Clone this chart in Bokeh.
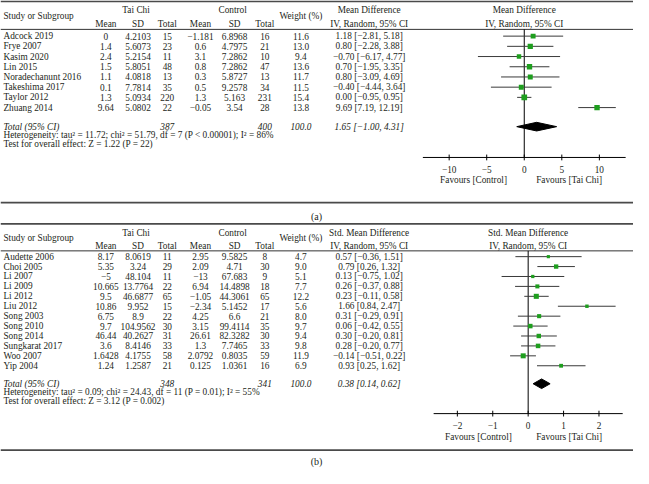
from bokeh.plotting import figure
from bokeh.models import Range1d, ColumnDataSource
from bokeh.core.properties import value
from bokeh.embed import file_html
from bokeh.resources import INLINE
import math

# ---------------- DATA: panel (a) ----------------
studies_a = ["Adcock 2019", "Frye 2007", "Kasim 2020", "Lin 2015", "Noradechanunt 2016",
             "Takeshima 2017", "Taylor 2012", "Zhuang 2014"]
tc_mean_a = ["0", "1.4", "2.4", "1.5", "1.1", "0.1", "1.3", "9.64"]
tc_sd_a = ["4.2103", "5.6073", "5.2154", "5.8051", "4.0818", "7.7814", "5.0934", "5.0802"]
tc_n_a = [15, 23, 11, 48, 13, 35, 220, 22]
c_mean_a = ["−1.181", "0.6", "3.1", "0.8", "0.3", "0.5", "1.3", "−0.05"]
c_sd_a = ["6.8968", "4.7975", "7.2862", "7.2862", "5.8727", "9.2578", "5.163", "3.54"]
c_n_a = [16, 21, 10, 47, 13, 34, 231, 28]
weight_a = [11.6, 13.0, 9.4, 13.6, 11.7, 11.5, 15.4, 13.8]
est_a = [1.18, 0.80, -0.70, 0.70, 0.80, -0.40, 0.00, 9.69]
lo_a = [-2.81, -2.28, -6.17, -1.95, -3.09, -4.44, -0.95, 7.19]
hi_a = [5.18, 3.88, 4.77, 3.35, 4.69, 3.64, 0.95, 12.19]
total_a = {"tc_n": 387, "c_n": 400, "w": "100.0", "est": 1.65, "lo": -1.00, "hi": 4.31}
het_a = "Heterogeneity: tau² = 11.72; chi² = 51.79, df = 7 (P < 0.00001); I² = 86%"
test_a = "Test for overall effect: Z = 1.22 (P = 22)"
ticks_a = [-10, -5, 0, 5, 10]

# ---------------- DATA: panel (b) ----------------
studies_b = ["Audette 2006", "Choi 2005", "Li 2007", "Li 2009", "Li 2012", "Liu 2012",
             "Song 2003", "Song 2010", "Song 2014", "Sungkarat 2017", "Woo 2007", "Yip 2004"]
tc_mean_b = ["8.17", "5.35", "−5", "10.665", "9.5", "10.86", "6.75", "9.7", "46.44", "3.6", "1.6428", "1.24"]
tc_sd_b = ["8.0619", "3.24", "48.104", "13.7764", "46.6877", "9.952", "8.9", "104.9562", "40.2627",
           "8.4146", "4.1755", "1.2587"]
tc_n_b = [11, 29, 11, 22, 65, 15, 22, 30, 31, 33, 58, 21]
c_mean_b = ["2.95", "2.09", "−13", "6.94", "−1.05", "−2.34", "4.25", "3.15", "26.61", "1.3", "2.0792", "0.125"]
c_sd_b = ["9.5825", "4.71", "67.683", "14.4898", "44.3061", "5.1452", "6.6", "99.4114", "82.3282",
          "7.7465", "0.8035", "1.0361"]
c_n_b = [8, 30, 9, 18, 65, 17, 21, 35, 30, 33, 59, 16]
weight_b = [4.7, 9.0, 5.1, 7.7, 12.2, 5.6, 8.0, 9.7, 9.4, 9.8, 11.9, 6.9]
est_b = [0.57, 0.79, 0.13, 0.26, 0.23, 1.66, 0.31, 0.06, 0.30, 0.28, -0.14, 0.93]
lo_b = [-0.36, 0.26, -0.75, -0.37, -0.11, 0.84, -0.29, -0.42, -0.20, -0.20, -0.51, 0.25]
hi_b = [1.51, 1.32, 1.02, 0.88, 0.58, 2.47, 0.91, 0.55, 0.81, 0.77, 0.22, 1.62]
total_b = {"tc_n": 348, "c_n": 341, "w": "100.0", "est": 0.38, "lo": 0.14, "hi": 0.62}
het_b = "Heterogeneity: tau² = 0.09; chi² = 24.43, df = 11 (P = 0.01); I² = 55%"
test_b = "Test for overall effect: Z = 3.12 (P = 0.002)"
ticks_b = [-2, -1, 0, 1, 2]

# ---------------- STYLE ----------------
FONT = value("Liberation Serif")
FS = "9.3px"
TXT = "#231f20"
GREEN = "#1e9e1e"
W_REF, H_REF = 649, 486
# column centres (reference pixels)
X_MEAN1, X_SD1, X_N1, X_MEAN2, X_SD2, X_N2, X_W, X_CI = 108, 141, 171, 205, 240, 271, 308, 378

p = figure(width=633, height=468, output_backend="svg", toolbar_location=None,
           x_range=Range1d(0, W_REF), y_range=Range1d(H_REF, 0),
           min_border=0, outline_line_color=None)
p.axis.visible = False
p.grid.visible = False
p.background_fill_color = "white"


def fmt(v):
    return f"{v:.2f}".replace("-", "−")


def ci_label(e, l, h):
    return f"{fmt(e)} [{fmt(l)}, {fmt(h)}]"


def txt(x, y, s, align="center", style="normal", size=FS):
    p.text(x=[x], y=[y], text=[s], text_font=FONT, text_font_size=size,
           text_align=align, text_baseline="middle", text_color=TXT, text_font_style=style)


def col(xs, ys, texts, align="center", style="normal"):
    src = ColumnDataSource(dict(x=xs, y=ys, t=texts))
    p.text(x="x", y="y", text="t", source=src, text_font=FONT, text_font_size=FS,
           text_align=align, text_baseline="middle", text_color=TXT, text_font_style=style)


def panel(L, studies, tcm, tcsd, tcn, cm, csd, cn, w, est, lo, hi, tot, het, test, ticks,
          colhdr, rng_name, zero_px, px_per_unit, label):
    start = (0 - zero_px) / px_per_unit
    end = (W_REF - zero_px) / px_per_unit
    p.extra_x_ranges[rng_name] = Range1d(start, end)

    # rules
    p.line([0, W_REF], [L["top"], L["top"]], line_color="#4a4a4a", line_width=1.8)
    p.line([0, W_REF], [L["hline"], L["hline"]], line_color="#333333", line_width=1)
    p.line([0, W_REF], [L["sep"], L["sep"]], line_color="#4a4a4a", line_width=1.8)

    # headers
    txt(3, L["h2"], "Study or Subgroup", align="left")
    txt(139, L["h1"], "Tai Chi")
    txt(238, L["h1"], "Control")
    txt(X_W, L["h2"], "Weight (%)")
    for xx, s in [(X_MEAN1, "Mean"), (X_SD1, "SD"), (X_N1, "Total"),
                  (X_MEAN2, "Mean"), (X_SD2, "SD"), (X_N2, "Total")]:
        txt(xx, L["h3"], s)
    txt(X_CI, L["h1"], colhdr)
    txt(X_CI, L["h3"], "IV, Random, 95% CI")
    txt(zero_px, L["h1"], colhdr)
    txt(zero_px, L["h3"], "IV, Random, 95% CI")

    n = len(studies)
    ys = [L["row0"] + i * L["step"] for i in range(n)]
    col([3] * n, ys, studies, align="left")
    col([X_MEAN1] * n, ys, tcm)
    col([X_SD1] * n, ys, tcsd)
    col([X_N1] * n, ys, [str(v) for v in tcn])
    col([X_MEAN2] * n, ys, cm)
    col([X_SD2] * n, ys, csd)
    col([X_N2] * n, ys, [str(v) for v in cn])
    col([X_W] * n, ys, [f"{v:.1f}" for v in w])
    col([X_CI] * n, ys, [ci_label(e, l, h) for e, l, h in zip(est, lo, hi)])

    # total row
    yt = L["total"]
    txt(3, yt, "Total (95% CI)", align="left", style="italic")
    txt(X_N1, yt, str(tot["tc_n"]), style="italic")
    txt(X_N2, yt, str(tot["c_n"]), style="italic")
    txt(X_W, yt, tot["w"], style="italic")
    txt(X_CI, yt, ci_label(tot["est"], tot["lo"], tot["hi"]), style="italic")
    txt(3, L["het"], het, align="left")
    txt(3, L["test"], test, align="left")

    # forest: zero line
    p.segment(x0=[0], y0=[L["hline"]], x1=[0], y1=[L["axis"]], x_range_name=rng_name,
              line_color="black", line_width=1)
    src = ColumnDataSource(dict(lo=lo, hi=hi, est=est, y=ys,
                                s=[1.45 * math.sqrt(v) for v in w]))
    p.segment(x0="lo", y0="y", x1="hi", y1="y", source=src, x_range_name=rng_name,
              line_color="#3a3a3a", line_width=1)
    p.scatter(x="est", y="y", size="s", source=src, marker="square", x_range_name=rng_name,
              fill_color=GREEN, line_color=None)
    hh = L["dia_h"]
    p.patch(x=[tot["lo"], tot["est"], tot["hi"], tot["est"]],
            y=[yt, yt - hh, yt, yt + hh], x_range_name=rng_name,
            fill_color="black", line_color="black")
    # axis
    ext = L["axis_ext"]
    p.segment(x0=[-ext], y0=[L["axis"]], x1=[ext], y1=[L["axis"]], x_range_name=rng_name,
              line_color="black", line_width=1)
    p.segment(x0=ticks, y0=[L["axis"] - 3] * len(ticks), x1=ticks, y1=[L["axis"] + 3] * len(ticks),
              x_range_name=rng_name, line_color="black", line_width=1)
    p.text(x=ticks, y=[L["ticklab"]] * len(ticks), text=[str(t).replace("-", "−") for t in ticks],
           x_range_name=rng_name, text_font=FONT, text_font_size=FS, text_align="center",
           text_baseline="middle", text_color=TXT)
    txt(L["fav_l"], L["fav"], "Favours [Control]")
    txt(583, L["fav"], "Favours [Tai Chi]")
    txt(324, L["label"], label, size="10px")


LA = dict(top=1, h1=10, h2=16, h3=24, hline=30, row0=37, step=10.6, total=131, het=140, test=149,
          axis=163, ticklab=175, fav=186, sep=210, label=224, dia_h=4.5, axis_ext=13.5, fav_l=485)
LB = dict(top=232, h1=241, h2=247, h3=255, hline=260, row0=266, step=10.3, total=398, het=407, test=416,
          axis=429, ticklab=441, fav=453, sep=467, label=479, dia_h=5, axis_ext=2.67, fav_l=490)

panel(LA, studies_a, tc_mean_a, tc_sd_a, tc_n_a, c_mean_a, c_sd_a, c_n_a, weight_a, est_a, lo_a, hi_a,
      total_a, het_a, test_a, ticks_a, "Mean Difference", "fa", 537, 7.7, "(a)")
panel(LB, studies_b, tc_mean_b, tc_sd_b, tc_n_b, c_mean_b, c_sd_b, c_n_b, weight_b, est_b, lo_b, hi_b,
      total_b, het_b, test_b, ticks_b, "Std. Mean Difference", "fb", 541, 36.3, "(b)")

open("out.html", "w").write(file_html(p, INLINE))
